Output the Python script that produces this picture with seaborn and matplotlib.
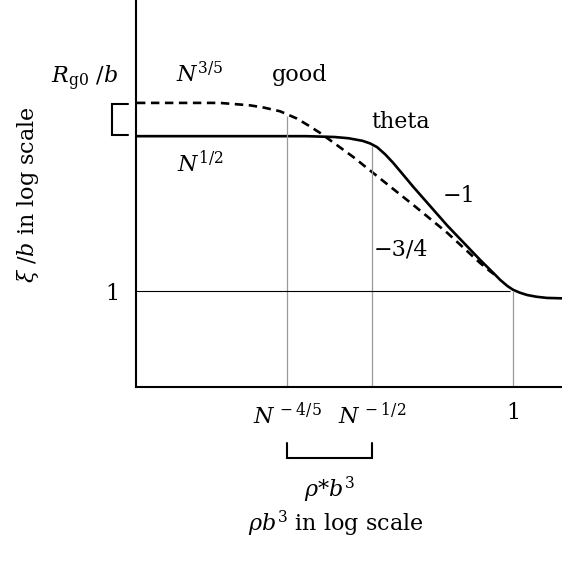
import numpy as np
import pandas as pd
import matplotlib
matplotlib.use("Agg")
import matplotlib.pyplot as plt
import seaborn as sns
from matplotlib.transforms import blended_transform_factory

# log10 units, with log10 N = 3 (schematic)
logN = 3.0
theta_x = [-4.0, -2.2, -1.9, -1.75, -1.6, -1.52, -1.447, -1.36, -1.277, -1.17, -1.064, -0.70, -0.351,
           -0.2, -0.138, -0.06, 0.0, 0.07, 0.149, 0.25, 0.36, 0.52]
theta_y = [1.49, 1.49, 1.482, 1.47, 1.445, 1.42, 1.385, 1.315, 1.235, 1.12, 1.005, 0.63, 0.30,
           0.165, 0.108, 0.048, 0.012, -0.015, -0.038, -0.055, -0.066, -0.07]
good_x = [-4.0, -3.12, -2.8, -2.65, -2.48, -2.30, -2.18, -2.05, -1.70, -1.383, -1.064, -0.70, -0.351,
          -0.245, -0.16]
good_y = [1.81, 1.81, 1.787, 1.765, 1.73, 1.66, 1.595, 1.52, 1.29, 1.06, 0.83, 0.56, 0.27,
          0.19, 0.135]

xticks = [-0.8 * logN, -0.5 * logN, 0.0]
xticklabels = [r"$N^{\,-4/5}$", r"$N^{\,-1/2}$", "1"]
ytick = [0.0]
yticklabels = ["1"]
plateau_theta = 0.5 * logN
plateau_good = 0.6 * logN

sns.set_theme(style="white")
plt.rcParams["font.family"] = ["DejaVu Serif"]
plt.rcParams["mathtext.fontset"] = "dejavuserif"
plt.rcParams["text.color"] = "black"
plt.rcParams["axes.labelcolor"] = "black"
plt.rcParams["xtick.color"] = "black"
plt.rcParams["ytick.color"] = "black"

fig = plt.figure(figsize=(5.62, 5.62), dpi=100)
ax = fig.add_axes([136 / 562, (562 - 387) / 562, 1 - 136 / 562, 387 / 562])

df_t = pd.DataFrame({"x": theta_x, "y": theta_y})
df_g = pd.DataFrame({"x": good_x, "y": good_y})
sns.lineplot(data=df_t, x="x", y="y", ax=ax, color="black", lw=1.9, sort=False, estimator=None)
sns.lineplot(data=df_g, x="x", y="y", ax=ax, color="black", lw=1.9, sort=False, estimator=None,
             linestyle=(0, (3.2, 2.1)))

ax.set_xlim(-4.01, 0.52)
ax.set_ylim(-0.923, 2.8)

# guide lines
ax.vlines(xticks[0], -0.923, 1.68, color="#999999", lw=0.9)
ax.vlines(xticks[1], -0.923, 1.40, color="#999999", lw=0.9)
ax.vlines(xticks[2], -0.923, 0.0, color="#999999", lw=0.9)
ax.hlines(0.0, -4.01, -0.03, color="black", lw=0.8)

for s in ["top", "right"]:
    ax.spines[s].set_visible(False)
for s in ["left", "bottom"]:
    ax.spines[s].set_color("black")
    ax.spines[s].set_linewidth(1.5)

fs = 16
ax.set_xticks(xticks)
ax.set_xticklabels(xticklabels, fontsize=fs)
ax.set_yticks(ytick)
ax.set_yticklabels(yticklabels, fontsize=fs)
ax.tick_params(axis="both", length=0)
ax.tick_params(axis="x", pad=11)
ax.tick_params(axis="y", pad=12)
ax.set_xlabel(r"$\rho b^3$ in log scale", fontsize=fs)
ax.xaxis.set_label_coords((336 - 136) / 426, -(524 - 387) / 387)
ax.xaxis.label.set_va("center")
ax.set_ylabel(r"$\xi\ /b$ in log scale", fontsize=fs)
ax.yaxis.set_label_coords((28 - 136) / 426, (387 - 195) / 387)
ax.yaxis.label.set_va("center")
ax.grid(False)

ax.text(-3.33, 2.08, r"$N^{3/5}$", fontsize=fs, ha="center", va="center")
ax.text(-2.27, 2.08, "good", fontsize=fs, ha="center", va="center")
ax.text(-1.20, 1.63, "theta", fontsize=fs, ha="center", va="center")
ax.text(-3.33, 1.23, r"$N^{1/2}$", fontsize=fs, ha="center", va="center")
ax.text(-0.57, 0.91, "\u22121", fontsize=fs, ha="center", va="center")
ax.text(-1.19, 0.40, "\u22123/4", fontsize=fs, ha="center", va="center")
ax.text(-4.56, 2.05, r"$R_{\rm g0}\ /b$", fontsize=fs, ha="center", va="center", clip_on=False)

# left bracket (between plateaus)
bt = blended_transform_factory(ax.transAxes, ax.transData)
bx0 = (112 - 136) / 426
bx1 = (128 - 136) / 426
ax.plot([bx1, bx0, bx0, bx1], [plateau_good, plateau_good, plateau_theta, plateau_theta],
        transform=bt, color="black", lw=1.5, clip_on=False, solid_joinstyle="miter")

# bottom bracket (rho* range)
bt2 = blended_transform_factory(ax.transData, ax.transAxes)
by0 = -(443 - 387) / 387
by1 = -(458 - 387) / 387
ax.plot([xticks[0], xticks[0], xticks[1], xticks[1]], [by0, by1, by1, by0],
        transform=bt2, color="black", lw=1.5, clip_on=False, solid_joinstyle="miter")
ax.text((xticks[0] + xticks[1]) / 2, -(490 - 387) / 387, r"$\rho{*}b^3$", fontsize=fs,
        ha="center", va="center", transform=bt2)

fig.savefig("out.png", dpi=100)
